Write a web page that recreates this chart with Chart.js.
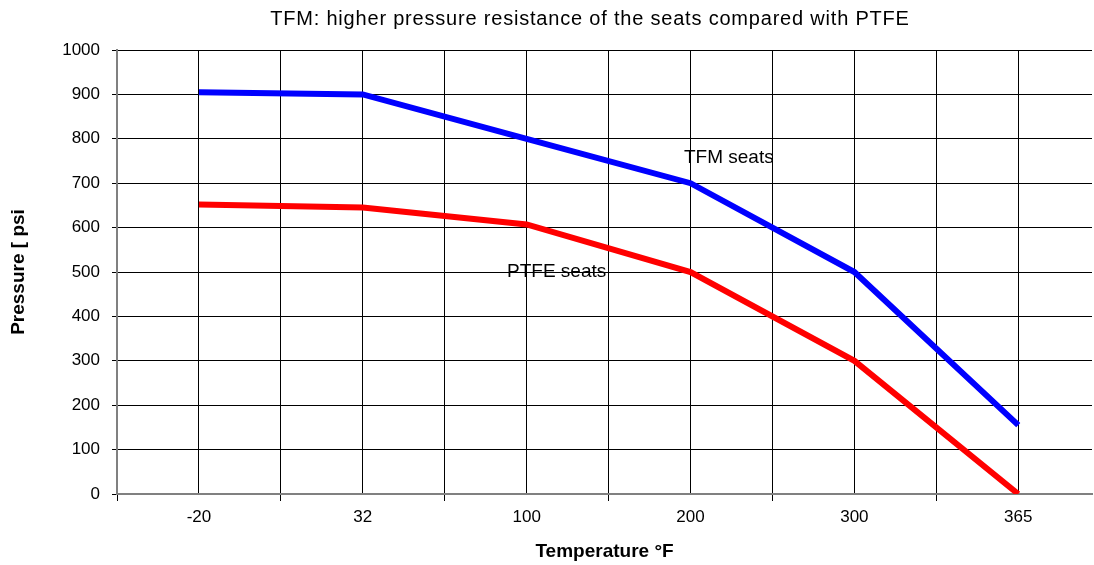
<!DOCTYPE html>
<html>
<head>
<meta charset="utf-8">
<script src="https://cdn.jsdelivr.net/npm/chart.js@4/dist/chart.umd.min.js"></script>
<style>
	html, body { margin: 0; padding: 0; background: #fff; }
	#wrap { width: 1094px; height: 565px; }
</style>
</head>
<body>
<div id="wrap"><canvas id="chart"></canvas></div>
<script>
// Temperature categories (°F) and pressure ratings (psi)
const temperatures = ['-20', '32', '100', '200', '300', '365'];
const tfmSeats = [905, 900, 800, 700, 500, 155];
const ptfeSeats = [652, 645, 607, 500, 300, 0];
const pressureTicks = [0, 100, 200, 300, 400, 500, 600, 700, 800, 900, 1000];
// gridlines every half category: boundaries get tick marks, centres get labels
const gridSteps = [-0.5, 0, 0.5, 1, 1.5, 2, 2.5, 3, 3.5, 4, 4.5, 5];
const seriesLabels = [
	{text: 'TFM seats', x: 2.96, y: 757},
	{text: 'PTFE seats', x: 1.88, y: 500}
];

const font = 'Arial, "Liberation Sans", sans-serif';

const toPoints = (values) => values.map((v, i) => ({x: i, y: v}));

// chart title + in-plot series labels, drawn on the canvas
const textPlugin = {
	id: 'texts',
	afterDraw(chart) {
		const ctx = chart.ctx,
			xs = chart.scales.x,
			ys = chart.scales.y;
		ctx.save();
		ctx.fillStyle = '#000';
		ctx.textBaseline = 'middle';
		ctx.font = '20px ' + font;
		ctx.letterSpacing = '0.8px';
		ctx.textAlign = 'center';
		ctx.fillText('TFM: higher pressure resistance of the seats compared with PTFE', 590, 19);
		ctx.letterSpacing = '0px';
		ctx.font = '19px ' + font;
		ctx.textAlign = 'left';
		seriesLabels.forEach((l) => {
			ctx.fillText(l.text, xs.getPixelForValue(l.x), ys.getPixelForValue(l.y));
		});
		ctx.restore();
	}
};

const chart = new Chart(
	document.getElementById('chart'),
	{
		type: 'line',
		data: {
			datasets: [{
				label: 'TFM seats',
				data: toPoints(tfmSeats),
				borderColor: '#0000ff',
				borderWidth: 6,
				pointRadius: 0,
				tension: 0
			}, {
				label: 'PTFE seats',
				data: toPoints(ptfeSeats),
				borderColor: '#ff0000',
				borderWidth: 6,
				pointRadius: 0,
				tension: 0
			}]
		},
		options: {
			responsive: true,
			maintainAspectRatio: false,
			animation: false,
			layout: {padding: {top: 50, right: 2, left: 0, bottom: 0}},
			scales: {
				x: {
					type: 'linear',
					min: -0.5,
					max: 5.45,
					afterBuildTicks: (scale) => {
						scale.ticks = gridSteps.map((v) => ({value: v}));
					},
					afterFit: (scale) => { scale.height = 71; },
					ticks: {
						autoSkip: false,
						maxRotation: 0,
						color: '#000',
						font: {family: font, size: 17},
						padding: 6,
						callback: (v) => Number.isInteger(v) ? temperatures[v] : ''
					},
					grid: {
						color: '#000',
						lineWidth: 1,
						tickLength: 7,
						tickColor: (c) => (c.tick && Number.isInteger(c.tick.value)) ? 'rgba(0,0,0,0)' : '#000'
					},
					border: {color: '#808080', width: 2},
					title: {
						display: true,
						text: 'Temperature °F',
						color: '#000',
						font: {family: font, size: 19, weight: 'bold'},
						padding: {top: 0, bottom: 2}
					}
				},
				y: {
					min: 0,
					max: 1000,
					afterBuildTicks: (scale) => {
						scale.ticks = pressureTicks.map((v) => ({value: v}));
					},
					afterFit: (scale) => { scale.width = 117; },
					ticks: {
						color: '#000',
						font: {family: font, size: 17},
						padding: 12,
						callback: (v) => String(v)
					},
					grid: {
						color: '#000',
						lineWidth: 1,
						tickLength: 5
					},
					border: {color: '#808080', width: 2},
					title: {
						display: true,
						text: 'Pressure [ psi',
						color: '#000',
						font: {family: font, size: 19, weight: 'bold'},
						padding: {top: 7, bottom: 0}
					}
				}
			},
			plugins: {
				legend: {display: false},
				tooltip: {enabled: false}
			}
		},
		plugins: [textPlugin]
	}
);
</script>
</body>
</html>
